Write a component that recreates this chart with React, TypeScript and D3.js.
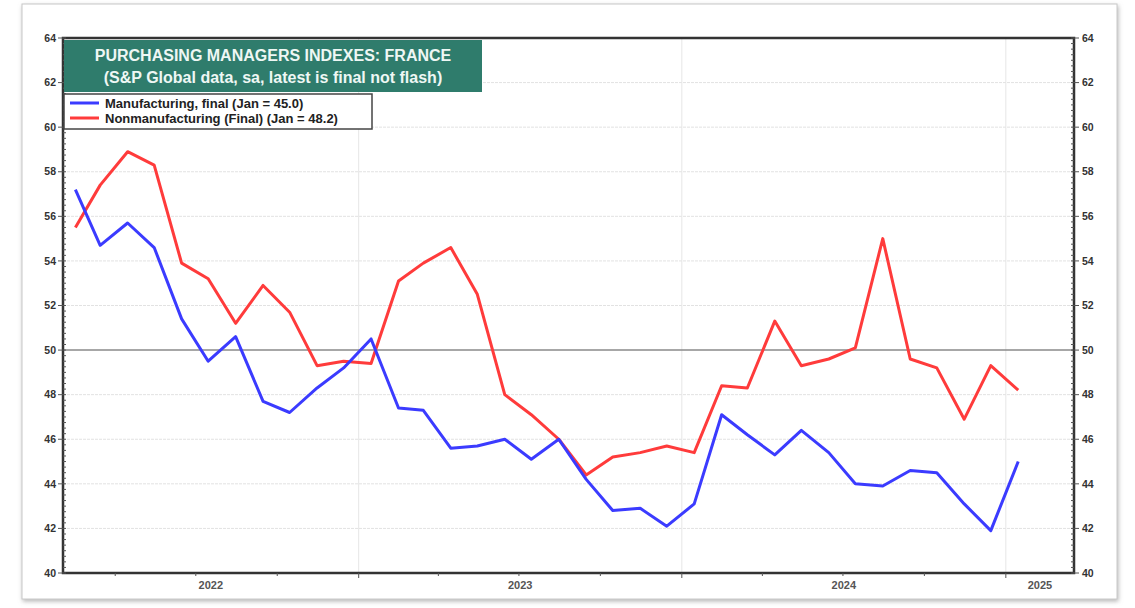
import React, { useRef, useEffect } from 'react';
import * as d3 from 'd3';

// monthly readings, Feb 2022 .. Jan 2025
const months = [
  '2022-02', '2022-03', '2022-04', '2022-05', '2022-06', '2022-07', '2022-08', '2022-09',
  '2022-10', '2022-11', '2022-12', '2023-01', '2023-02', '2023-03', '2023-04', '2023-05',
  '2023-06', '2023-07', '2023-08', '2023-09', '2023-10', '2023-11', '2023-12', '2024-01',
  '2024-02', '2024-03', '2024-04', '2024-05', '2024-06', '2024-07', '2024-08', '2024-09',
  '2024-10', '2024-11', '2024-12', '2025-01',
];

const manufacturing = [
  57.2, 54.7, 55.7, 54.6, 51.4, 49.5, 50.6, 47.7, 47.2, 48.3, 49.2, 50.5,
  47.4, 47.3, 45.6, 45.7, 46.0, 45.1, 46.0, 44.2, 42.8, 42.9, 42.1, 43.1,
  47.1, 46.2, 45.3, 46.4, 45.4, 44.0, 43.9, 44.6, 44.5, 43.1, 41.9, 45.0,
];

const nonmanufacturing = [
  55.5, 57.4, 58.9, 58.3, 53.9, 53.2, 51.2, 52.9, 51.7, 49.3, 49.5, 49.4,
  53.1, 53.9, 54.6, 52.5, 48.0, 47.1, 46.0, 44.4, 45.2, 45.4, 45.7, 45.4,
  48.4, 48.3, 51.3, 49.3, 49.6, 50.1, 55.0, 49.6, 49.2, 46.9, 49.3, 48.2,
];

const yearLabels = ['2022', '2023', '2024', '2025'];
const yTicks = [40, 42, 44, 46, 48, 50, 52, 54, 56, 58, 60, 62, 64];

const titleLines = [
  'PURCHASING MANAGERS INDEXES: FRANCE',
  '(S&P Global data, sa, latest is final not flash)',
];
const legendItems = [
  { label: 'Manufacturing, final (Jan = 45.0)', color: '#3b3bff' },
  { label: 'Nonmanufacturing (Final) (Jan = 48.2)', color: '#ff3b3b' },
];

const FONT = 'Liberation Sans, Arial, sans-serif';

function PmiChart() {
  const ref = useRef(null);

  useEffect(() => {
    const svg = d3.select(ref.current);
    svg.selectAll('*').remove();

    const left = 63, right = 1074, top = 38, bottom = 573;
    const x = d3.scaleTime()
      .domain([new Date(2022, 1, 1), new Date(2025, 2, 19)])
      .range([left, right]);
    const y = d3.scaleLinear().domain([40, 64]).range([bottom, top]);
    const parse = d3.timeParse('%Y-%m');
    const dates = months.map((m) => {
      const d = parse(m);
      return new Date(d.getFullYear(), d.getMonth(), 15);
    });

    // paper with a soft shadow
    const defs = svg.append('defs');
    const f = defs.append('filter').attr('id', 'shadow')
      .attr('x', '-5%').attr('y', '-5%').attr('width', '110%').attr('height', '110%');
    f.append('feDropShadow').attr('dx', 1).attr('dy', 2).attr('stdDeviation', 2)
      .attr('flood-color', '#888').attr('flood-opacity', 0.6);

    svg.append('rect').attr('x', 0).attr('y', 0).attr('width', 1135).attr('height', 608).attr('fill', '#fff');
    svg.append('rect')
      .attr('x', 22).attr('y', 4).attr('width', 1095).attr('height', 595)
      .attr('fill', '#fff').attr('stroke', '#c8c8c8').attr('stroke-width', 1)
      .attr('filter', 'url(#shadow)');

    // gridlines
    const g = svg.append('g');
    g.selectAll('.hgrid').data(yTicks.filter((t) => t !== 40 && t !== 64 && t !== 50))
      .enter().append('line')
      .attr('x1', left).attr('x2', right)
      .attr('y1', (d) => y(d)).attr('y2', (d) => y(d))
      .attr('stroke', '#e2e2e2').attr('stroke-width', 1).attr('stroke-dasharray', '3,1');
    const yearStarts = [new Date(2023, 0, 1), new Date(2024, 0, 1), new Date(2025, 0, 1)];
    g.selectAll('.vgrid').data(yearStarts).enter().append('line')
      .attr('x1', (d) => x(d)).attr('x2', (d) => x(d))
      .attr('y1', top).attr('y2', bottom)
      .attr('stroke', '#e6e6e6').attr('stroke-width', 1);
    g.append('line')
      .attr('x1', left).attr('x2', right).attr('y1', y(50)).attr('y2', y(50))
      .attr('stroke', '#8a8a8a').attr('stroke-width', 1.5);

    // series
    const line = d3.line().x((d) => x(d[0])).y((d) => y(d[1]));
    [[nonmanufacturing, '#ff3b3b'], [manufacturing, '#3b3bff']].forEach(([vals, color]) => {
      svg.append('path')
        .datum(dates.map((d, i) => [d, vals[i]]))
        .attr('d', line)
        .attr('fill', 'none').attr('stroke', color).attr('stroke-width', 3)
        .attr('stroke-linejoin', 'round');
    });

    // frame
    svg.append('rect')
      .attr('x', left).attr('y', top).attr('width', right - left).attr('height', bottom - top)
      .attr('fill', 'none').attr('stroke', '#333').attr('stroke-width', 2.5);

    // y axis ticks, both sides
    const minor = d3.range(40, 64.01, 0.25);
    const axes = svg.append('g').attr('stroke', '#555').attr('stroke-width', 1);
    axes.selectAll('.ml').data(minor).enter().append('line')
      .attr('x1', left).attr('x2', left + 3).attr('y1', (d) => y(d)).attr('y2', (d) => y(d));
    axes.selectAll('.mr').data(minor).enter().append('line')
      .attr('x1', right - 3).attr('x2', right).attr('y1', (d) => y(d)).attr('y2', (d) => y(d));
    axes.selectAll('.tl').data(yTicks).enter().append('line')
      .attr('x1', left - 5).attr('x2', left).attr('y1', (d) => y(d)).attr('y2', (d) => y(d));
    axes.selectAll('.tr').data(yTicks).enter().append('line')
      .attr('x1', right).attr('x2', right + 5).attr('y1', (d) => y(d)).attr('y2', (d) => y(d));

    svg.selectAll('.yl').data(yTicks).enter().append('text')
      .attr('x', 56).attr('y', (d) => y(d)).attr('dy', '0.35em')
      .attr('text-anchor', 'end').attr('font-family', FONT)
      .attr('font-size', 10.5).attr('font-weight', 'bold').attr('fill', '#333')
      .text((d) => d);
    svg.selectAll('.yr').data(yTicks).enter().append('text')
      .attr('x', 1082).attr('y', (d) => y(d)).attr('dy', '0.35em')
      .attr('text-anchor', 'start').attr('font-family', FONT)
      .attr('font-size', 10.5).attr('font-weight', 'bold').attr('fill', '#333')
      .text((d) => d);

    // x axis: quarterly ticks, year labels centred on the visible part of each year
    const quarters = d3.timeMonth.every(3).range(x.domain()[0], x.domain()[1]);
    axes.selectAll('.xt').data(quarters).enter().append('line')
      .attr('x1', (d) => x(d)).attr('x2', (d) => x(d))
      .attr('y1', bottom).attr('y2', (d) => bottom + (d.getMonth() === 0 ? 5 : 3));
    const [d0, d1] = x.domain();
    svg.selectAll('.xl').data(yearLabels).enter().append('text')
      .attr('x', (yr) => {
        const a = new Date(+yr, 0, 1) < d0 ? d0 : new Date(+yr, 0, 1);
        const b = new Date(+yr + 1, 0, 1) > d1 ? d1 : new Date(+yr + 1, 0, 1);
        return (x(a) + x(b)) / 2;
      })
      .attr('y', 589).attr('text-anchor', 'middle')
      .attr('font-family', FONT).attr('font-size', 11)
      .attr('font-weight', 'bold').attr('fill', '#555')
      .text((d) => d);

    // title box
    svg.append('rect').attr('x', 64).attr('y', 40).attr('width', 418).attr('height', 52)
      .attr('fill', '#2f7c6c');
    svg.selectAll('.tt').data(titleLines).enter().append('text')
      .attr('x', 273).attr('y', (d, i) => 61 + i * 22)
      .attr('text-anchor', 'middle').attr('font-family', FONT)
      .attr('font-size', 16).attr('font-weight', 'bold').attr('fill', '#eef7f4')
      .text((d) => d);

    // legend
    const lg = svg.append('g');
    lg.append('rect').attr('x', 64).attr('y', 94).attr('width', 308).attr('height', 35)
      .attr('fill', '#fff').attr('stroke', '#444').attr('stroke-width', 1.5);
    legendItems.forEach((it, i) => {
      const ly = 103 + i * 15;
      lg.append('line').attr('x1', 70).attr('x2', 99).attr('y1', ly).attr('y2', ly)
        .attr('stroke', it.color).attr('stroke-width', 3);
      lg.append('text').attr('x', 105).attr('y', ly).attr('dy', '0.35em')
        .attr('font-family', FONT).attr('font-size', 13).attr('font-weight', 'bold')
        .attr('fill', '#222').text(it.label);
    });
  }, []);

  return (
    <svg ref={ref} width={1135} height={608}
      style={{ position: 'absolute', left: 0, top: 0, display: 'block' }} />
  );
}

export default function App() {
  return <PmiChart />;
}
